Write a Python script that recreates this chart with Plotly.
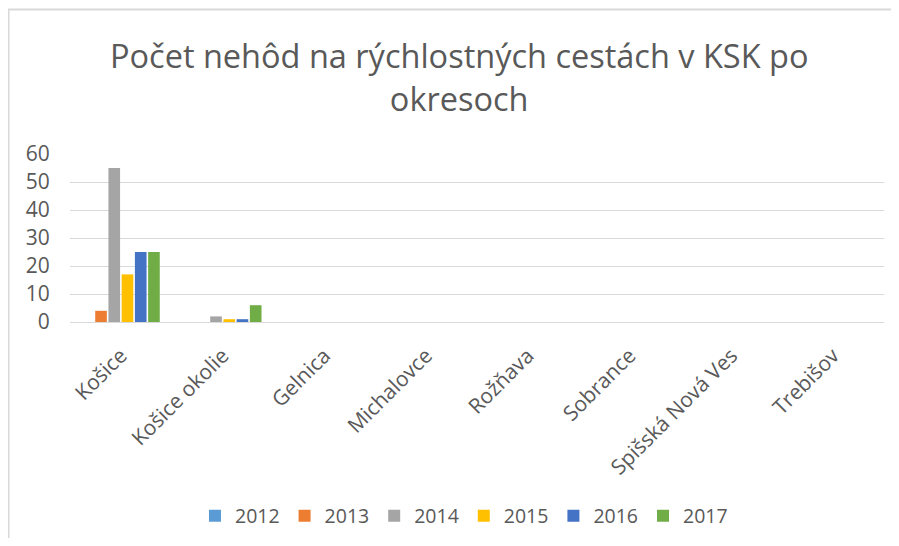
import plotly.graph_objects as go

categories = ["Košice", "Košice okolie", "Gelnica", "Michalovce", "Rožňava",
              "Sobrance", "Spišská Nová Ves", "Trebišov"]
years = ["2012", "2013", "2014", "2015", "2016", "2017"]
v2012 = [0, 0, 0, 0, 0, 0, 0, 0]
v2013 = [4, 0, 0, 0, 0, 0, 0, 0]
v2014 = [55, 2, 0, 0, 0, 0, 0, 0]
v2015 = [17, 1, 0, 0, 0, 0, 0, 0]
v2016 = [25, 1, 0, 0, 0, 0, 0, 0]
v2017 = [25, 6, 0, 0, 0, 0, 0, 0]
series = [v2012, v2013, v2014, v2015, v2016, v2017]
colors = ["#5B9BD5", "#ED7D31", "#A5A5A5", "#FFC000", "#4472C4", "#70AD47"]

# page has an 8px body margin; figure sized to fit inside the window
W, H = 883, 530
ml, mr, mt, mb = 62, 7, 146, 216
pw, ph = W - ml - mr, H - mt - mb

fig = go.Figure()
for name, vals, c in zip(years, series, colors):
    fig.add_trace(go.Bar(x=categories, y=vals, name=name, marker_color=c,
                         marker_line_width=0))

font = "Open Sans, Liberation Sans, sans-serif"
fig.update_layout(
    width=W, height=H,
    margin=dict(l=ml, r=mr, t=mt, b=mb, autoexpand=False),
    paper_bgcolor="white", plot_bgcolor="white",
    barmode="group", bargap=0.22, bargroupgap=0.12,
    font=dict(family=font, color="#595959"),
    title=dict(text="Počet nehôd na rýchlostných cestách v KSK po<br>okresoch",
               x=0.511, xanchor="center", y=0.886, yanchor="middle",
               font=dict(size=32.5, color="#595959", family=font)),
    xaxis=dict(tickangle=-45, tickfont=dict(size=21, color="#595959"),
               showgrid=False, showline=True, linecolor="#d9d9d9", linewidth=1,
               ticks="outside", ticklen=12, tickcolor="white", automargin=False),
    yaxis=dict(range=[0, 60], dtick=10, tickfont=dict(size=21, color="#595959"),
               showgrid=True, gridcolor="#d9d9d9", gridwidth=1, zeroline=False,
               ticks="outside", ticklen=15, tickcolor="white", showline=False,
               automargin=False),
    legend=dict(orientation="h", x=0.484, xanchor="center", y=-1.155, yanchor="middle",
                font=dict(size=19.5, color="#595959"), itemwidth=30,
                traceorder="normal"),
    shapes=[dict(type="rect", xref="paper", yref="paper",
                 x0=(0.5 - ml) / pw, x1=(W + 10 - ml) / pw,
                 y0=-(mb + 10) / ph, y1=(H - 1.5 - mb) / ph,
                 line=dict(color="#d9d9d9", width=2), fillcolor="rgba(0,0,0,0)")],
)

fig.write_html("out.html")
